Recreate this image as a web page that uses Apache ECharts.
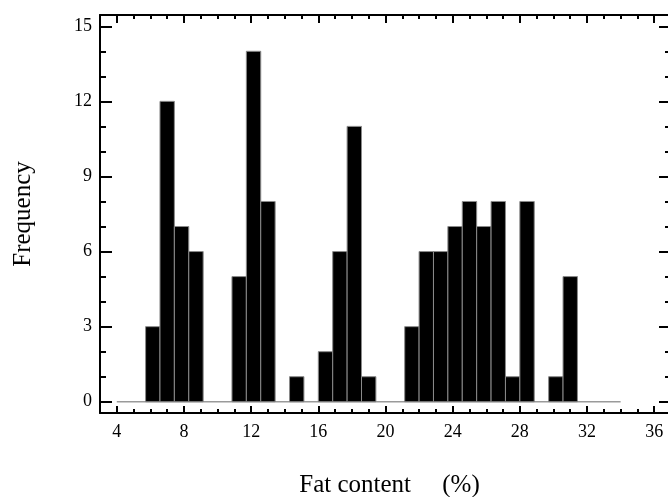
<!DOCTYPE html>
<html>
<head>
<meta charset="utf-8">
<script src="https://cdn.jsdelivr.net/npm/echarts@6/dist/echarts.min.js"></script>
<style>
  html, body { margin: 0; padding: 0; background: #fff; }
  #chart { width: 668px; height: 497px; }
</style>
</head>
<body>
<div id="chart"></div>
<script>
// Histogram of fat content: 35 equal bins between binLow and binHigh
const binLow = 4;
const binHigh = 34;
const counts = [
  0, 0, 3, 12, 7, 6, 0, 0, 5, 14, 8, 0, 1, 0, 2, 6, 11, 1,
  0, 0, 3, 6, 6, 7, 8, 7, 8, 1, 8, 0, 1, 5, 0, 0, 0
];

// Axis ticks
const xMajorTicks = [4, 8, 12, 16, 20, 24, 28, 32, 36];
const xMinorTicks = [5, 6, 7, 9, 10, 11, 13, 14, 15, 17, 18, 19, 21, 22, 23, 25, 26, 27, 29, 30, 31, 33, 34, 35];
const yMajorTicks = [0, 3, 6, 9, 12, 15];
const yMinorTicks = [1, 2, 4, 5, 7, 8, 10, 11, 13, 14];

const xLabel = 'Fat content \u3000(%)';
const yLabel = 'Frequency';

const binWidth = (binHigh - binLow) / counts.length;
const bars = [];
counts.forEach(function (c, i) {
  if (c > 0) bars.push([binLow + i * binWidth, binLow + (i + 1) * binWidth, c]);
});

const serif = '"Liberation Serif", "Times New Roman", serif';
const lineStyle = { color: '#000', width: 2 };

function xAxisDef(position, ticks, len, showLine, labels) {
  return {
    type: 'value', position: position, min: 3, max: 37,
    axisLine: { show: showLine, onZero: false, lineStyle: lineStyle },
    axisTick: { show: true, inside: true, length: len, customValues: ticks, lineStyle: lineStyle },
    axisLabel: labels
      ? { show: true, customValues: ticks, margin: 10, color: '#000', fontFamily: serif, fontSize: 18 }
      : { show: false },
    splitLine: { show: false }
  };
}
function yAxisDef(position, ticks, len, showLine, labels) {
  return {
    type: 'value', position: position, min: -0.45, max: 15.45,
    axisLine: { show: showLine, onZero: false, lineStyle: lineStyle },
    axisTick: { show: true, inside: true, length: len, customValues: ticks, lineStyle: lineStyle },
    axisLabel: labels
      ? { show: true, customValues: ticks, margin: 8, color: '#000', fontFamily: serif, fontSize: 18 }
      : { show: false },
    splitLine: { show: false }
  };
}

const xAxes = [
  xAxisDef('bottom', xMajorTicks, 7, true, true),
  xAxisDef('bottom', xMinorTicks, 4, false, false),
  xAxisDef('top', xMajorTicks, 8, true, false),
  xAxisDef('top', xMinorTicks, 4, false, false)
];
Object.assign(xAxes[0], {
  name: xLabel, nameLocation: 'middle', nameGap: 60,
  nameTextStyle: { color: '#000', fontFamily: serif, fontSize: 25, padding: [0, 0, 0, 8] }
});

const yAxes = [
  yAxisDef('left', yMajorTicks, 12, true, true),
  yAxisDef('left', yMinorTicks, 6, false, false),
  yAxisDef('right', yMajorTicks, 12, true, false),
  yAxisDef('right', yMinorTicks, 6, false, false)
];
Object.assign(yAxes[0], {
  name: yLabel, nameLocation: 'middle', nameGap: 64, nameRotate: 90,
  nameTextStyle: { color: '#000', fontFamily: serif, fontSize: 25 }
});

const chart = echarts.init(document.getElementById('chart'), null, { renderer: 'canvas' });
chart.setOption({
  animation: false,
  backgroundColor: '#fff',
  grid: {
    left: 100, right: -3, top: 15, bottom: 84,
    containLabel: false, outerBoundsMode: 'none'
  },
  xAxis: xAxes,
  yAxis: yAxes,
  series: [
    {
      type: 'line',
      xAxisIndex: 0, yAxisIndex: 0,
      data: [[binLow, 0], [binHigh, 0]],
      symbol: 'none',
      lineStyle: { color: '#9a9a9a', width: 1.5 },
      z: 1
    },
    {
      type: 'custom',
      xAxisIndex: 0, yAxisIndex: 0,
      data: bars,
      z: 2,
      renderItem: function (params, api) {
        const p0 = api.coord([api.value(0), api.value(2)]);
        const p1 = api.coord([api.value(1), 0]);
        return {
          type: 'rect',
          shape: { x: p0[0], y: p0[1], width: p1[0] - p0[0], height: p1[1] - p0[1] },
          style: { fill: '#000', stroke: '#8a8a8a', lineWidth: 1 }
        };
      }
    }
  ]
});
</script>
</body>
</html>
